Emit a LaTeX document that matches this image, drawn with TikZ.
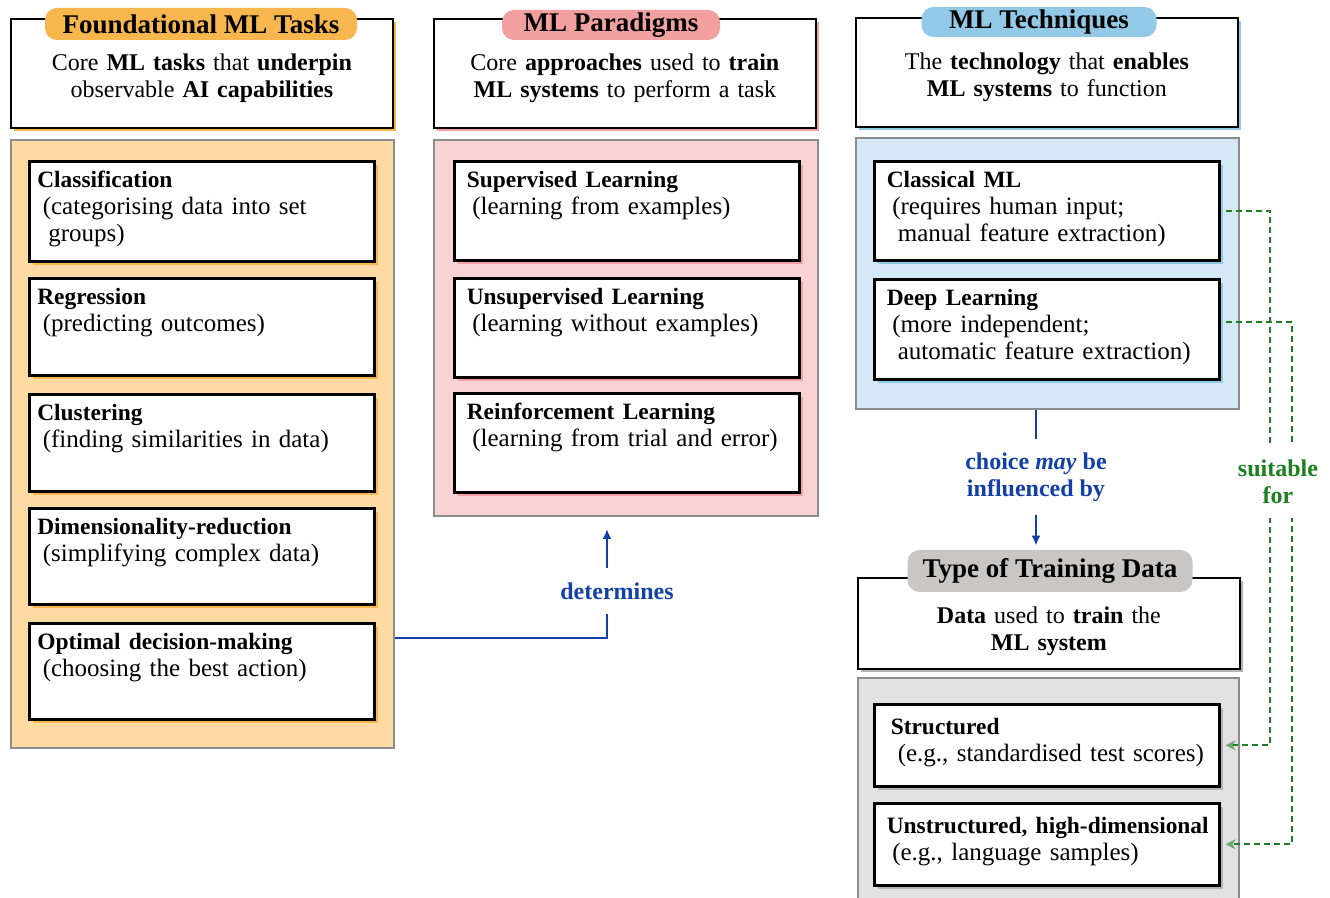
\documentclass[tikz,border=0pt]{standalone}
\usepackage{fontspec}
\setmainfont{Liberation Serif}
\usetikzlibrary{shadows,arrows.meta}

\definecolor{taskorange}{HTML}{F8B64E}
\definecolor{taskpanel}{HTML}{FEDBA2}
\definecolor{pararose}{HTML}{F2A0A0}
\definecolor{parapanel}{HTML}{F9D3D3}
\definecolor{techblue}{HTML}{92C9E7}
\definecolor{techpanel}{HTML}{D5E8F6}
\definecolor{datagray}{HTML}{C9C6C4}
\definecolor{datapanel}{HTML}{E2E2E2}
\definecolor{linkblue}{HTML}{1240A6}
\definecolor{linkgreen}{HTML}{1E7F22}
\definecolor{tipgreen}{HTML}{6BA86D}

\newcommand{\pad}{\hspace*{2.75pt}}
\newcommand{\ttl}[1]{{\fontsize{11.7}{13.5}\selectfont\bfseries #1}}

\tikzset{
  panel/.style={draw=black!45, line width=1pt, anchor=north west, inner sep=0pt, minimum width=191.5pt},
  headbox/.style={draw, line width=0.9pt, fill=white, anchor=north west, align=center,
    text width=183pt, inner sep=4pt, text height=22pt, text depth=24.5pt,
    font=\fontsize{12}{13.5}\selectfont},
  tag/.style={rounded corners=6pt, inner sep=0pt, font=\fontsize{13.5}{15}\selectfont\bfseries},
  itembox/.style={draw, line width=1.3pt, fill=white, anchor=north west, align=left,
    text width=160pt, inner xsep=6.25pt, inner ysep=4pt, text height=9pt,
    font=\fontsize{12.5}{13.5}\selectfont},
  taskitem/.style={itembox, inner xsep=4pt, text width=164.5pt,
    general shadow={fill=taskorange, shadow xshift=2pt, shadow yshift=-2pt}},
  paraitem/.style={itembox, general shadow={fill=pararose, shadow xshift=2pt, shadow yshift=-2pt}},
  techitem/.style={itembox, general shadow={fill=techblue, shadow xshift=2pt, shadow yshift=-2pt}},
  dataitem/.style={itembox, text height=11pt, general shadow={fill=black!30, shadow xshift=2pt, shadow yshift=-2pt}},
  linklabel/.style={font=\fontsize{12}{13.5}\selectfont\bfseries, align=center},
  detline/.style={linkblue, line width=1.1pt},
  suitline/.style={linkgreen, line width=0.9pt, dash pattern=on 3pt off 2pt}
}

\begin{document}
\begin{tikzpicture}[x=0.5pt, y=-0.5pt]
  \clip (0,0) rectangle (1330,898);

  \node[panel, fill=taskpanel, minimum height=304pt] (taskbg) at (10,139) {};
  \node[panel, fill=parapanel, minimum width=192pt, minimum height=188pt] (parabg) at (433,139) {};
  \node[panel, fill=techpanel, minimum height=135.5pt] (techbg) at (855,137) {};
  \node[panel, fill=datapanel, minimum width=190.5pt, minimum height=125pt] (databg) at (857,677) {};

  \node[headbox, general shadow={fill=taskorange, shadow xshift=1.5pt, shadow yshift=-1.5pt}] (taskhead) at (10,18)
    {Core \textbf{ML tasks} that \textbf{underpin}\\observable \textbf{AI capabilities}\hspace*{4pt}};
  \node[headbox, general shadow={fill=pararose, shadow xshift=1.5pt, shadow yshift=-1.5pt}] (parahead) at (433,18)
    {Core \textbf{approaches} used to \textbf{train}\hspace*{8pt}\\\textbf{ML systems} to perform a task\hspace*{8pt}};
  \node[headbox, general shadow={fill=techblue, shadow xshift=1.5pt, shadow yshift=-1.5pt}] (techhead) at (855,17)
    {The \textbf{technology} that \textbf{enables}\\\textbf{ML systems} to function};
  \node[headbox, text height=19pt, text depth=18.5pt, general shadow={fill=black!30, shadow xshift=1.5pt, shadow yshift=-1.5pt}] (datahead) at (857,577)
    {\textbf{Data} used to \textbf{train} the\\\textbf{ML system}};

  \node[tag, fill=taskorange, minimum width=156pt, minimum height=16pt] (tasktag) at (201,24) {Foundational ML Tasks};
  \node[tag, fill=pararose, minimum width=109pt, minimum height=15pt] (paratag) at (611,25) {ML Paradigms};
  \node[tag, fill=techblue, minimum width=117.5pt, minimum height=15pt] (techtag) at (1039,22) {ML Techniques};
  \node[tag, fill=datagray, minimum width=142.5pt, minimum height=21pt] (datatag) at (1050,571) {Type of Training Data};

  \node[taskitem, text depth=33pt] (classif) at (28,160) {\ttl{Classification}\\\pad(categorising data into set\\\pad\pad groups)};
  \node[taskitem, text depth=31.5pt] (regress) at (28,277) {\ttl{Regression}\\\pad(predicting outcomes)};
  \node[taskitem, text depth=31.5pt] (cluster) at (28,393) {\ttl{Clustering}\\\pad(finding similarities in data)};
  \node[taskitem, text depth=31pt] (dimred) at (28,507) {\ttl{Dimensionality-reduction}\\\pad(simplifying complex data)};
  \node[taskitem, text depth=31pt] (optimal) at (28,622) {\ttl{Optimal decision-making}\\\pad(choosing the best action)};

  \node[paraitem, text depth=32.5pt] (superv) at (453,160) {\ttl{Supervised Learning}\\\pad(learning from examples)};
  \node[paraitem, text depth=32.5pt] (unsuperv) at (453,277) {\ttl{Unsupervised Learning}\\\pad(learning without examples)};
  \node[paraitem, text depth=32.5pt] (reinf) at (453,392) {\ttl{Reinforcement Learning}\\\pad\mbox{(learning from trial and error)}};

  \node[techitem, text depth=32.5pt] (classical) at (873,160) {\ttl{Classical ML}\\\pad(requires human input;\\\pad\pad manual feature extraction)};
  \node[techitem, text depth=33pt] (deep) at (873,278) {\ttl{Deep Learning}\\\pad(more independent;\\\pad\pad\mbox{automatic feature extraction)}};

  \node[dataitem, text depth=22pt] (structured) at (873,703) {\hspace*{2pt}\ttl{Structured}\\\pad\pad\mbox{(e.g., standardised test scores)}};
  \node[dataitem, text depth=22pt] (unstructured) at (873,802) {\mbox{\ttl{Unstructured, high-dimensional}}\\\pad(e.g., language samples)};

  \node[linklabel, text=linkblue, inner ysep=7pt] (determines) at (617,591) {determines};
  \coordinate (detturn) at (607,638);
  \draw[detline] (taskbg.east |- detturn) -| (detturn |- determines.south);
  \draw[detline, -{Latex[length=5pt,width=4.5pt]}, shorten >=6pt] (detturn |- determines.north) -- (detturn |- parabg.south);

  \node[linklabel, text=linkblue, inner ysep=6.5pt] (choice) at (1036,477) {choice \textit{may} be\\influenced by};
  \draw[detline] (choice.north |- techbg.south) -- (choice.north);
  \draw[detline, -{Latex[length=5pt,width=4.5pt]}, shorten >=2pt] (choice.south) -- (choice.south |- datatag.north);

  \draw[suitline, -{Stealth[length=5pt,width=5pt,color=tipgreen]}, shorten <=2.5pt, shorten >=2.5pt]
    (classical.east) -- ++(49,0) |- (structured.east);
  \draw[suitline, -{Stealth[length=5pt,width=5pt,color=tipgreen]}, shorten <=2.5pt, shorten >=2.5pt]
    ([yshift=3.5pt]deep.east) -- ++(71,0) |- (unstructured.east);
  \node[linklabel, text=linkgreen, fill=white, inner ysep=7pt] (suitable) at (1278,482) {suitable\\for};
\end{tikzpicture}
\end{document}
